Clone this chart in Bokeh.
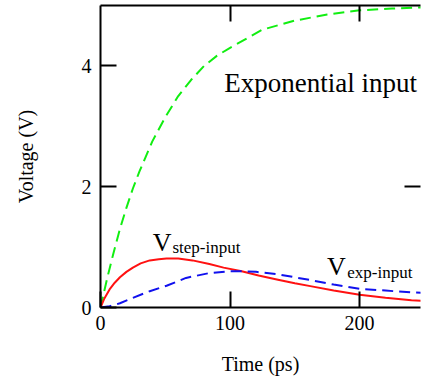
from bokeh.plotting import figure
from bokeh.models import LinearAxis, Label, FixedTicker, Range1d, CustomLabelingPolicy
from bokeh.embed import file_html
from bokeh.resources import INLINE

# Data
t_exp_in = [0, 5, 10, 15, 20, 25, 30, 40, 50, 60, 70, 80, 90, 100, 125, 150, 175, 200, 225, 250]
v_exp_in = [0, 0.47, 0.9, 1.3, 1.65, 1.97, 2.25, 2.75, 3.15, 3.5, 3.77, 4.0, 4.17, 4.3, 4.6, 4.75, 4.85, 4.92, 4.95, 4.97]

t_step = [0, 3, 7, 11, 15, 20, 25, 31, 38, 45, 51, 60, 71, 84, 95, 109, 122, 137, 150, 163, 180, 200, 220, 240, 250]
v_step = [0, 0.15, 0.3, 0.41, 0.5, 0.59, 0.66, 0.73, 0.78, 0.8, 0.81, 0.81, 0.78, 0.72, 0.66, 0.6, 0.53, 0.46, 0.4, 0.35, 0.28, 0.21, 0.16, 0.12, 0.11]

t_exp_out = [0, 7, 15, 25, 38, 51, 66, 84, 100, 109, 120, 137, 150, 163, 180, 200, 220, 240, 250]
v_exp_out = [0, 0.02, 0.07, 0.16, 0.27, 0.36, 0.49, 0.57, 0.6, 0.6, 0.59, 0.55, 0.5, 0.45, 0.38, 0.31, 0.28, 0.25, 0.24]

x_ticks = [0, 100, 200]
y_ticks = [0, 2, 4]

FONT = "Liberation Serif"

p = figure(width=424, height=377, output_backend="svg", toolbar_location=None,
           x_range=Range1d(0, 247), y_range=Range1d(0, 5.0),
           min_border_left=100, min_border_right=0, min_border_top=5, min_border_bottom=69)
p.outline_line_color = None
p.grid.visible = False
p.background_fill_color = "white"
p.border_fill_color = "white"

def style_axis(ax, ticks):
    ax.ticker = FixedTicker(ticks=ticks)
    ax.axis_line_color = "black"
    ax.axis_line_width = 2
    ax.major_tick_line_color = "black"
    ax.major_tick_line_width = 2
    ax.major_tick_in = 16
    ax.major_tick_out = 0
    ax.minor_tick_line_color = None
    ax.major_label_text_font = FONT
    ax.major_label_text_font_size = "20px"
    ax.major_label_text_color = "black"
    ax.axis_label_text_font = FONT
    ax.axis_label_text_font_size = "20px"
    ax.axis_label_text_font_style = "normal"
    ax.axis_label_text_color = "black"

NO_LABELS_JS = """
const n = indices.size
for (let i = 0; i < n; i++) { indices.unset(i) }
return indices
"""

xa = p.xaxis[0]
style_axis(xa, x_ticks)
xa.axis_label = "Time (ps)"
xa.major_label_standoff = 8
xa.axis_label_standoff = 20

ya = p.yaxis[0]
style_axis(ya, y_ticks)
ya.axis_label = "Voltage (V)"
ya.major_label_standoff = 9
ya.axis_label_standoff = 42

top = LinearAxis()
style_axis(top, x_ticks[1:])
top.major_label_policy = CustomLabelingPolicy(code=NO_LABELS_JS)
top.major_label_text_font_size = "1px"
top.major_label_standoff = 0
p.add_layout(top, "above")

right = LinearAxis()
style_axis(right, [2])
right.axis_line_color = None
right.major_label_policy = CustomLabelingPolicy(code=NO_LABELS_JS)
right.major_label_text_font_size = "1px"
right.major_label_standoff = 0
p.add_layout(right, "right")

p.line(t_exp_in, v_exp_in, line_color="#11ee11", line_width=2, line_dash="11 6")
p.line(t_step, v_step, line_color="#ff1111", line_width=2)
p.line(t_exp_out, v_exp_out, line_color="#1111ee", line_width=2, line_dash="11 6")

def lab(x, y, text, size):
    p.add_layout(Label(x=x, y=y, text=text, text_font=FONT, text_font_size=size,
                       text_color="black", text_baseline="alphabetic", text_align="left"))

lab(95.5, 3.72, "Exponential input", "27px")
lab(40.4, 1.07, "V", "26px")
lab(55.5, 1.0, "step-input", "17px")
lab(174.8, 0.68, "V", "26px")
lab(190.5, 0.58, "exp-input", "17px")

open("out.html", "w").write(file_html(p, INLINE))
